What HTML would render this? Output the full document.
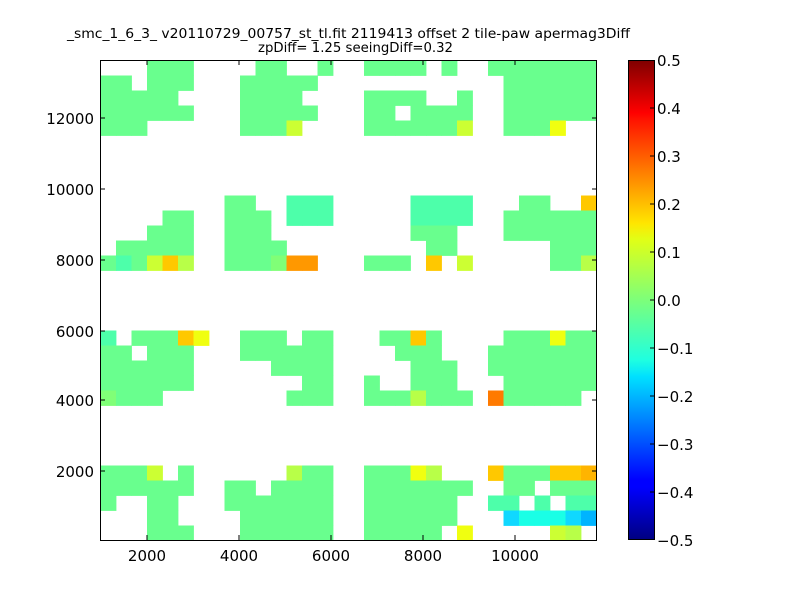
<!DOCTYPE html>
<html><head><meta charset="utf-8"><style>
body{margin:0;background:#fff;}
svg{display:block;font-family:"DejaVu Sans","Liberation Sans",sans-serif;}
</style></head><body>
<svg id="s" width="800" height="600" xmlns="http://www.w3.org/2000/svg">
<defs>
<linearGradient id="jet" x1="0" y1="1" x2="0" y2="0">
<stop offset="0" stop-color="#00007f"/>
<stop offset="0.11" stop-color="#0000ff"/>
<stop offset="0.125" stop-color="#0000ff"/>
<stop offset="0.34" stop-color="#00e0ff"/>
<stop offset="0.375" stop-color="#1fffe0"/>
<stop offset="0.5" stop-color="#7dff7a"/>
<stop offset="0.625" stop-color="#e0ff17"/>
<stop offset="0.66" stop-color="#ffe600"/>
<stop offset="0.875" stop-color="#ff1400"/>
<stop offset="0.89" stop-color="#ff0000"/>
<stop offset="1" stop-color="#7f0000"/>
</linearGradient>
</defs>
<g id="cells"></g>
<rect x="100.5" y="60.5" width="496" height="480" fill="none" stroke="#000" stroke-width="1"/>
<g stroke="#000" stroke-width="1">
<line x1="147" y1="540" x2="147" y2="535"/><line x1="147" y1="60" x2="147" y2="65"/>
<line x1="239" y1="540" x2="239" y2="535"/><line x1="239" y1="60" x2="239" y2="65"/>
<line x1="331" y1="540" x2="331" y2="535"/><line x1="331" y1="60" x2="331" y2="65"/>
<line x1="423" y1="540" x2="423" y2="535"/><line x1="423" y1="60" x2="423" y2="65"/>
<line x1="515" y1="540" x2="515" y2="535"/><line x1="515" y1="60" x2="515" y2="65"/>
<line x1="100" y1="118" x2="105" y2="118"/><line x1="597" y1="118" x2="592" y2="118"/>
<line x1="100" y1="189" x2="105" y2="189"/><line x1="597" y1="189" x2="592" y2="189"/>
<line x1="100" y1="260" x2="105" y2="260"/><line x1="597" y1="260" x2="592" y2="260"/>
<line x1="100" y1="331" x2="105" y2="331"/><line x1="597" y1="331" x2="592" y2="331"/>
<line x1="100" y1="400" x2="105" y2="400"/><line x1="597" y1="400" x2="592" y2="400"/>
<line x1="100" y1="471" x2="105" y2="471"/><line x1="597" y1="471" x2="592" y2="471"/>
</g>
<g font-size="15" fill="#000" text-anchor="middle">
<text x="147" y="561">2000</text><text x="239" y="561">4000</text><text x="331" y="561">6000</text><text x="423" y="561">8000</text><text x="515" y="561">10000</text>
</g>
<g font-size="15" fill="#000" text-anchor="end">
<text x="94" y="124">12000</text><text x="94" y="195">10000</text><text x="94" y="266">8000</text><text x="94" y="337">6000</text><text x="94" y="406">4000</text><text x="94" y="477">2000</text>
</g>
<g font-size="13" fill="#000">
<text x="67" y="38" textLength="563" lengthAdjust="spacingAndGlyphs">_smc_1_6_3_ v20110729_00757_st_tl.fit 2119413 offset 2 tile-paw apermag3Diff</text>
<text x="258" y="52" textLength="195" lengthAdjust="spacingAndGlyphs">zpDiff= 1.25 seeingDiff=0.32</text>
</g>
<rect x="628" y="60" width="27" height="480" fill="url(#jet)"/>
<rect x="628.5" y="60.5" width="26" height="479" fill="none" stroke="#000"/>
<g stroke="#000">
<line x1="650" y1="108" x2="655" y2="108"/><line x1="650" y1="156" x2="655" y2="156"/><line x1="650" y1="204" x2="655" y2="204"/><line x1="650" y1="252" x2="655" y2="252"/><line x1="650" y1="300" x2="655" y2="300"/><line x1="650" y1="348" x2="655" y2="348"/><line x1="650" y1="396" x2="655" y2="396"/><line x1="650" y1="444" x2="655" y2="444"/><line x1="650" y1="492" x2="655" y2="492"/>
</g>
<g font-size="15" fill="#000">
<text x="657" y="66">0.5</text><text x="657" y="114">0.4</text><text x="657" y="162">0.3</text><text x="657" y="210">0.2</text><text x="657" y="258">0.1</text><text x="657" y="306">0.0</text><text x="657" y="354">−0.1</text><text x="657" y="402">−0.2</text><text x="657" y="450">−0.3</text><text x="657" y="498">−0.4</text><text x="657" y="546">−0.5</text>
</g>
</svg>
<script>
var P={g:"#69ff8e",c:"#4dffaa",l:"#80ff77",y:"#ccff33",Y:"#f0ff10",o:"#ffc800",O:"#ff9800",R:"#ff7a00",b:"#10d8ff",B:"#00b4ff",k:"#1affe6",m:"#b8ff48",Z:"#ffb400"};
var rows=[
"...ggg....gg..g..gggg.g..ggggggg",
"gg.ggg...ggggg............gggggg",
"ggggg....gggg....gggg..g..gggggg",
"gggggg...ggggg...gg.gggg..gggggg",
"ggg......gggy....ggggggy..gggY..",
"................................",
"................................",
"................................",
"................................",
"........gg..ccc.....cccc...gg..o",
"....gg..ggg.ccc.....cccc..gggggg",
"...ggg..ggg.........ggg...gggggg",
".ggggg..gggg.........gg......ggg",
"gcgyom..ggglOO...ggg.o.y.....ggm",
"................................",
"................................",
"................................",
"................................",
"c.gggoY..ggg.gg...ggog....gggYgg",
"gg.ggg...gggggg....ggg...ggggggg",
"gggggg.....gggg.....ggg..ggggggg",
"gggggg.......gg..g..ggg...gggggg",
"lggg........ggg..gggmggg.Rggggg.",
"................................",
"................................",
"................................",
"................................",
"gggy.g......mgg..gggYm...ogggooZ",
"gggggg..gg.gggg..ggggggg..gg.ggg",
"g..gg...ggggggg..gggggg..cc.c.cc",
"...gg....gggggg..gggggg...bkkkbB",
"...ggg...gggggg..ggggg.Y.....ym."
];
var s="",w=496/32;
for(var r=0;r<32;r++)for(var c=0;c<32;c++){var ch=rows[r][c];if(ch&&ch!="."){s+='<rect x="'+(100.5+c*w).toFixed(2)+'" y="'+(60.5+r*15)+'" width="'+(w+0.4).toFixed(2)+'" height="15.4" fill="'+P[ch]+'"/>';}}
document.getElementById("cells").innerHTML=s;
</script>
</body></html>
